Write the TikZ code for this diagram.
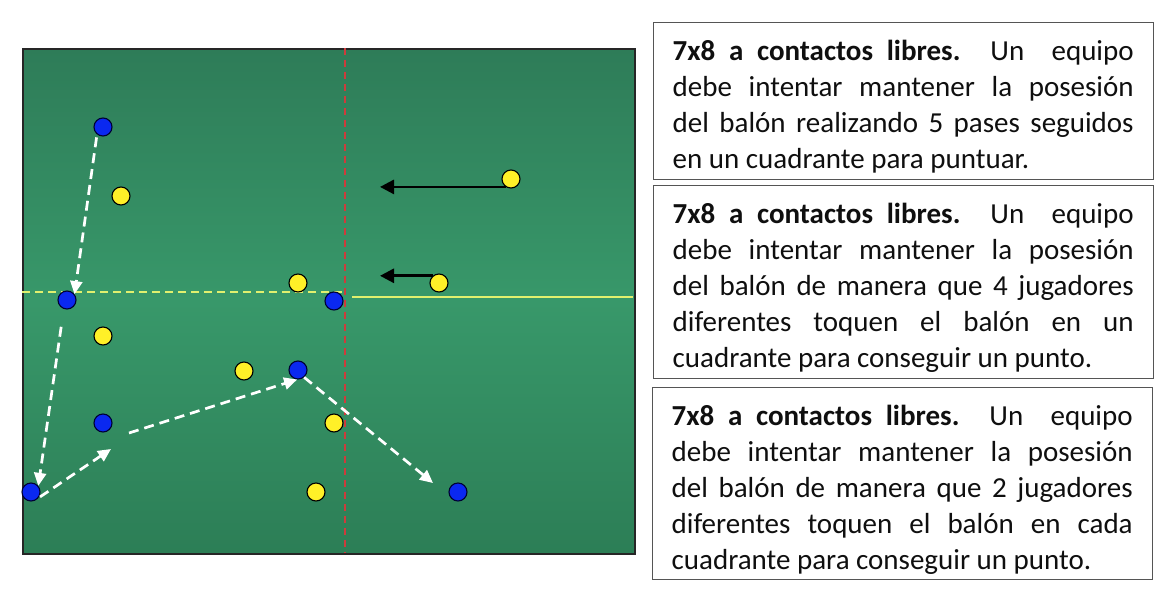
\documentclass[tikz,border=0pt]{standalone}
\usepackage{fontspec}
\setmainfont{Carlito}
\usetikzlibrary{arrows.meta}
\definecolor{fieldtop}{RGB}{46,124,88}
\definecolor{fieldmid}{RGB}{56,152,106}
\definecolor{fieldbot}{RGB}{44,126,86}
\definecolor{pblue}{RGB}{10,40,240}
\definecolor{pyellow}{RGB}{255,240,40}
\definecolor{redl}{RGB}{205,60,60}
\definecolor{yelline}{RGB}{225,240,110}
\definecolor{boxgray}{RGB}{85,85,85}
\definecolor{txt}{RGB}{15,15,15}
\tikzset{
  field/.style={draw=black!85, line width=1.6pt, top color=fieldtop, bottom color=fieldbot, middle color=fieldmid, minimum width=612pt, minimum height=505pt, inner sep=0pt, anchor=north west},
  blueply/.style={circle, draw=black!80!blue, line width=1.1pt, fill=pblue, minimum size=18pt, inner sep=0pt},
  yelply/.style={circle, draw=black, line width=1.1pt, fill=pyellow, minimum size=18pt, inner sep=0pt},
  pass/.style={draw=white, line width=2.7pt, dash pattern=on 10pt off 6pt, -{Triangle[length=13pt,width=12pt,fill=white]}},
  run/.style={draw=black, line width=2.8pt, -{Triangle[length=14pt,width=14pt]}},
  redline/.style={draw=redl, line width=1.2pt, dash pattern=on 7pt off 5pt},
  yeldash/.style={draw=yelline, line width=1.4pt, dash pattern=on 8pt off 5pt},
  yelsolid/.style={draw=yelline, line width=1.6pt},
  infobox/.style={draw=boxgray, line width=1.4pt, minimum width=500pt, inner sep=0pt, anchor=north west},
  infotext/.style={text width=461pt, align=justify, inner sep=0pt, anchor=north west, text=txt,
    font=\fontsize{29pt}{36pt}\selectfont},
}
\begin{document}
\begin{tikzpicture}[x=1pt,y=-1pt]
\useasboundingbox[fill=white] (0,0) rectangle (1160,595);
% field
\node[field] (field) at (22,48) {};
\coordinate (rtop) at (345,48);
\coordinate (rbot) at (345,553);
\coordinate (ydl) at (22,292);
\coordinate (ydr) at (345,292);
\coordinate (ysl) at (352,297);
\coordinate (ysr) at (633,297);
\draw[redline] (rtop) -- (rbot);
\draw[yeldash] (ydl) -- (ydr);
\draw[yelsolid] (ysl) -- (ysr);
% players
\node[blueply] (B1) at (103,127) {};
\node[blueply] (B2) at (67,300) {};
\node[blueply] (B3) at (334,301) {};
\node[blueply] (B4) at (298,370) {};
\node[blueply] (B5) at (103,423) {};
\node[blueply] (B6) at (31,492) {};
\node[blueply] (B7) at (458,492) {};
\node[yelply] (Y1) at (121,196) {};
\node[yelply] (Y2) at (511,179) {};
\node[yelply] (Y3) at (298,283) {};
\node[yelply] (Y4) at (439,283) {};
\node[yelply] (Y5) at (103,336) {};
\node[yelply] (Y6) at (244,371) {};
\node[yelply] (Y7) at (334,423) {};
\node[yelply] (Y8) at (316,492) {};
% runs
\coordinate (r1) at (380,188);
\coordinate (r2) at (380,275);
\draw[run] (Y2.236) -- (r1 |- Y2.236);
\draw[run] (Y4.131) -- (r2 |- Y4.131);
% passes
\coordinate (c) at (111,449);
\coordinate (d) at (129,433);
\coordinate (e) at (433,483);
\draw[pass, shorten <=3pt] (B1.231) -- (B2.38);
\draw[pass, shorten <=18pt] (B2.250) -- (B6.40);
\draw[pass, shorten <=2pt] (B6.-39) -- (c);
\draw[pass] (d) -- (B4.265);
\draw[pass] (B4.-50) -- (e);
% text boxes
\node[infobox, minimum height=157pt] (box1) at (653,22) {};
\node[infobox, minimum height=193pt] (box2) at (653,185) {};
\node[infobox, minimum height=192pt] (box3) at (652,387) {};
\node[infotext] (t1) at ([xshift=19.5pt,yshift=-10pt]box1.north west) {\rule{0pt}{28pt}\textbf{7x8 a contactos libres.} Un\ \ equipo\linebreak debe intentar mantener la posesión\linebreak del balón realizando 5 pases seguidos\linebreak en un cuadrante para puntuar.};
\node[infotext] (t2) at ([xshift=19.5pt,yshift=-10pt]box2.north west) {\rule{0pt}{28pt}\textbf{7x8 a contactos libres.} Un\ \ equipo\linebreak debe intentar mantener la posesión\linebreak del balón de manera que 4 jugadores\linebreak diferentes toquen el balón en un\linebreak cuadrante para conseguir un punto.};
\node[infotext] (t3) at ([xshift=19.5pt,yshift=-10pt]box3.north west) {\rule{0pt}{28pt}\textbf{7x8 a contactos libres.} Un\ \ equipo\linebreak debe intentar mantener la posesión\linebreak del balón de manera que 2 jugadores\linebreak diferentes toquen el balón en cada\linebreak cuadrante para conseguir un punto.};
\end{tikzpicture}
\end{document}
